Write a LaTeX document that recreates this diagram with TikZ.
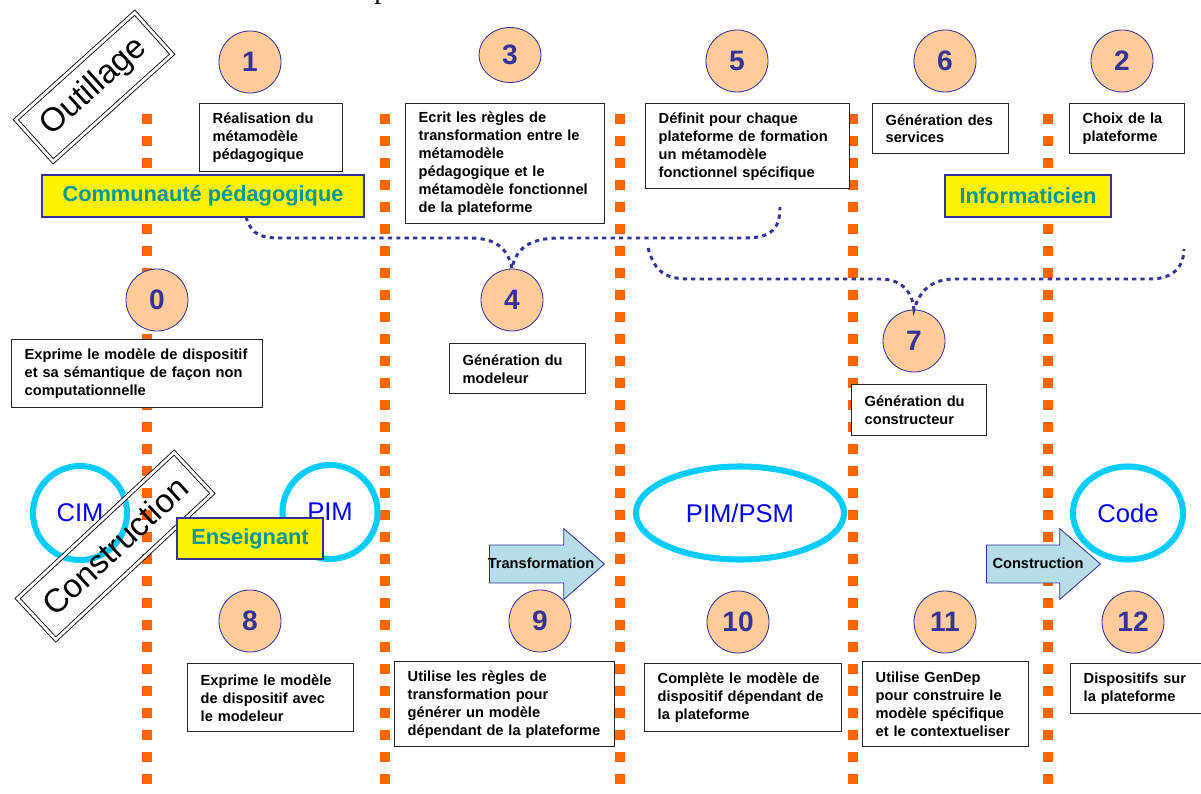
\documentclass[tikz,border=0pt]{standalone}
\usepackage{fontspec}
\setmainfont{Liberation Sans}
\newfontfamily\cutfont{Liberation Serif}
\usetikzlibrary{shapes.geometric,shapes.arrows}

\definecolor{laneorange}{HTML}{FF6600}
\definecolor{inkblue}{HTML}{333399}
\definecolor{peach}{HTML}{FFCC99}
\definecolor{ringcyan}{HTML}{00CCFF}
\definecolor{roleteal}{HTML}{009999}
\definecolor{arrowfill}{HTML}{B7DEE8}

\tikzset{
  lane/.style={draw=laneorange, line width=7.1pt, dash pattern=on 7.1pt off 8.55pt},
  memberlink/.style={draw=inkblue, line width=2.1pt, dash pattern=on 3pt off 3pt},
  numdisc/.style={ellipse, fill=peach, draw=inkblue, line width=0.6pt, inner sep=0pt,
    minimum width=1.55cm, minimum height=1.55cm, text=inkblue,
    font=\fontsize{20}{20}\selectfont\bfseries},
  notebox/.style={rectangle, anchor=north west, fill=white, draw=black!85, line width=1pt,
    align=left, inner xsep=0.325cm, inner ysep=0pt,
    font=\fontsize{10.4}{12.8}\selectfont\bfseries},
  rolebox/.style={rectangle, fill=yellow, draw=inkblue, line width=0.8pt, text=roleteal,
    minimum height=1.05cm, font=\fontsize{15.5}{15.5}\selectfont\bfseries},
  modelring/.style={ellipse, draw=ringcyan, line width=4.3pt, text=blue, inner sep=0pt,
    font=\fontsize{18.2}{18.2}\selectfont},
  phaselabel/.style={rectangle, draw, line width=0.6pt, double, double distance=2pt,
    minimum height=1.4cm, font=\fontsize{23.5}{23.5}\selectfont},
  flowarrow/.style={single arrow, anchor=tail, fill=arrowfill, draw=inkblue, line width=0.6pt,
    inner xsep=0pt, inner ysep=13.2pt, single arrow head extend=11.7pt,
    single arrow tip angle=82},
  arrowtext/.style={font=\fontsize{10.4}{10.4}\selectfont\bfseries}
}

\begin{document}
\begin{tikzpicture}[x=0.025cm, y=-0.025cm]
  \useasboundingbox (0,0) rectangle (1201,794);
  \node[anchor=base west, inner sep=0pt, font=\cutfont\fontsize{20}{20}\selectfont] (cutp) at (374,-1) {p};

  % swim lanes
  \foreach \lx in {147,385,620,853,1048}
    \draw[lane] (\lx,114) -- (\lx,786);

  % models
  \node[modelring, minimum width=2.35cm, minimum height=2.35cm] (cim) at (80,513) {CIM};
  \node[modelring, minimum width=2.375cm, minimum height=2.35cm] (pim) at (330,512) {PIM};
  \node[modelring, minimum width=5.2cm, minimum height=2.325cm] (psm) at (740,513) {PIM/PSM};
  \node[modelring, minimum width=2.75cm, minimum height=2.325cm] (code) at (1128,513) {Code};

  \node[phaselabel, rotate=42, minimum width=4cm] (tooling) at (94,87) {Outillage};
  \node[phaselabel, rotate=43, minimum width=5.35cm] (building) at (115,546) {Construction};

  % actors
  \node[rolebox, minimum width=8.05cm] (community) at (203,196) {Communauté pédagogique};
  \node[rolebox, minimum width=4.15cm] (developer) at (1028,196) {Informaticien};
  \node[rolebox, minimum width=3.65cm, minimum height=1.025cm] (teacher) at (250,538.5) {Enseignant};

  % steps
  \node[numdisc] (n1) at (250,62) {1};
  \node[numdisc, minimum height=1.375cm] (n3) at (510,55) {3};
  \node[numdisc] (n5) at (737,61) {5};
  \node[numdisc] (n6) at (945,61) {6};
  \node[numdisc] (n2) at (1122,61) {2};
  \node[numdisc] (n0) at (157,300) {0};
  \node[numdisc] (n4) at (512,300) {4};
  \node[numdisc] (n7) at (914,341) {7};
  \node[numdisc] (n8) at (250,621) {8};
  \node[numdisc] (n9) at (540,621) {9};
  \node[numdisc] (n10) at (738,622) {10};
  \node[numdisc] (n11) at (945,622) {11};
  \node[numdisc] (n12) at (1133,622) {12};

  \node[notebox, minimum width=3.575cm, minimum height=1.7cm, text width=2.925cm] (b1) at (199,103)
    {Réalisation du\\métamodèle\\pédagogique};
  \node[notebox, minimum width=4.975cm, minimum height=3cm, text width=4.325cm] (b3) at (405,103)
    {Ecrit les règles de\\transformation entre le\\métamodèle\\pédagogique et le\\métamodèle fonctionnel\\de la plateforme};
  \node[notebox, minimum width=5.1cm, minimum height=2.125cm, text width=4.45cm] (b5) at (645,103)
    {Définit pour chaque\\plateforme de formation\\un métamodèle\\fonctionnel spécifique};
  \node[notebox, minimum width=3.4cm, minimum height=1.25cm, text width=2.75cm] (b6) at (872,103)
    {Génération des\\services};
  \node[notebox, minimum width=2.875cm, minimum height=1.25cm, text width=2.225cm] (b2) at (1069,103)
    {Choix de la\\plateforme};
  \node[notebox, minimum width=6.275cm, minimum height=1.7cm, text width=5.625cm] (b0) at (11,339)
    {Exprime le modèle de dispositif\\et sa sémantique de façon non\\computationnelle};
  \node[notebox, minimum width=3.4cm, minimum height=1.25cm, text width=2.75cm] (b4) at (449,343)
    {Génération du\\modeleur};
  \node[notebox, minimum width=3.375cm, minimum height=1.275cm, text width=2.725cm] (b7) at (851,384)
    {Génération du\\constructeur};
  \node[notebox, minimum width=4.15cm, minimum height=1.7cm, text width=3.5cm] (b8) at (187,663)
    {Exprime le modèle\\de dispositif avec\\le modeleur};
  \node[notebox, minimum width=5.5cm, minimum height=2.125cm, text width=4.85cm] (b9) at (394,661)
    {Utilise les règles de\\transformation pour\\générer un modèle\\dépendant de la plateforme};
  \node[notebox, minimum width=4.925cm, minimum height=1.7cm, text width=4.275cm] (b10) at (644,663)
    {Complète le modèle de\\dispositif dépendant de\\la plateforme};
  \node[notebox, minimum width=4.15cm, minimum height=2.125cm, text width=3.5cm] (b11) at (862,661)
    {Utilise GenDep\\pour construire le\\modèle spécifique\\et le contextueliser};
  \node[notebox, minimum width=3.5cm, minimum height=1.25cm, text width=2.85cm] (b12) at (1070,663)
    {Dispositifs sur\\la plateforme};

  % transitions
  \node[flowarrow, minimum height=2.875cm] (xform) at (489,564) {};
  \node[arrowtext] (xformtxt) at (541,563) {Transformation};
  \node[flowarrow, minimum height=2.85cm] (build) at (986,564) {};
  \node[arrowtext] (buildtxt) at (1038,563) {Construction};

  % who does what
  \coordinate (commfoot) at (246,217);
  \coordinate (fivefoot) at (780,207);
  \coordinate (lefttail) at (648,248);
  \coordinate (righttail) at (1184,249);
  \draw[memberlink] (commfoot) .. controls (252,236) and (262,238) .. (282,238) -- (470,238)
    .. controls (495,238) and (508,248) .. (n4.north)
    .. controls (516,248) and (530,238) .. (560,238) -- (745,238)
    .. controls (772,238) and (780,228) .. (fivefoot);
  \draw[memberlink] (lefttail) .. controls (655,272) and (665,279) .. (690,279) -- (880,279)
    .. controls (900,279) and (912,290) .. (n7.north)
    .. controls (920,290) and (932,279) .. (955,279) -- (1150,279)
    .. controls (1175,279) and (1184,265) .. (righttail);
\end{tikzpicture}
\end{document}
